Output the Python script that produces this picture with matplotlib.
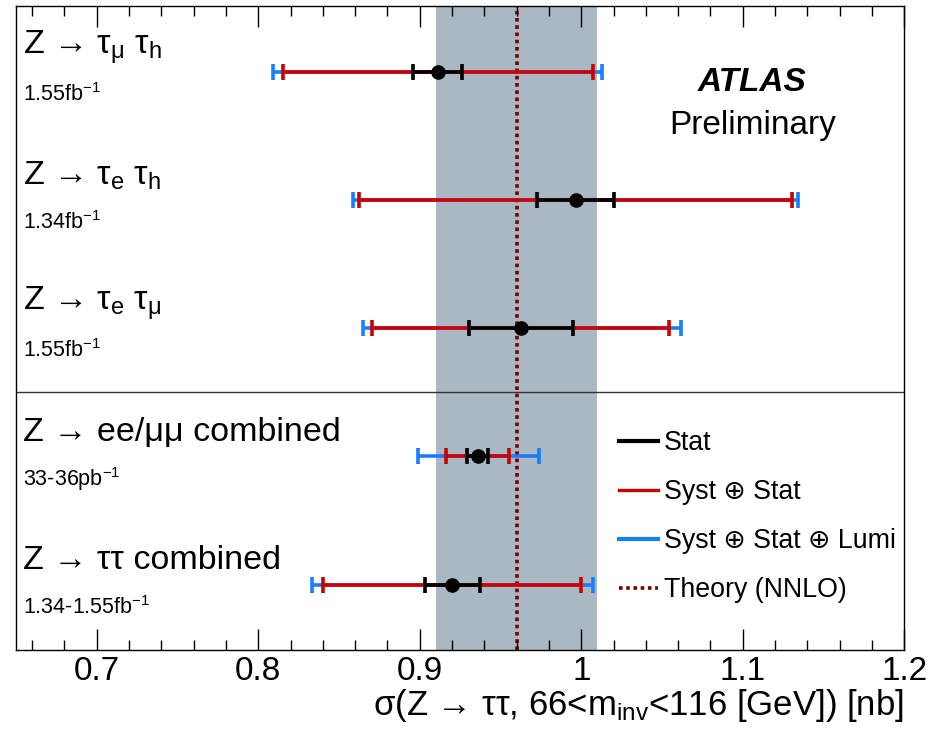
import matplotlib
matplotlib.use("Agg")
import matplotlib.pyplot as plt
from matplotlib.lines import Line2D
from matplotlib.ticker import MultipleLocator

plt.rcParams["font.family"] = ["Liberation Sans", "DejaVu Sans"]
plt.rcParams["mathtext.fontset"] = "custom"
plt.rcParams["mathtext.rm"] = "Liberation Sans"
plt.rcParams["mathtext.it"] = "Liberation Sans:italic"
plt.rcParams["mathtext.bf"] = "Liberation Sans:bold"

# measurements, top to bottom
channels = [
    r"Z → τ$_\mathregular{μ}$ τ$_\mathregular{h}$",
    r"Z → τ$_\mathregular{e}$ τ$_\mathregular{h}$",
    r"Z → τ$_\mathregular{e}$ τ$_\mathregular{μ}$",
    r"Z → ee/μμ combined",
    r"Z → ττ combined",
]
lumis = [
    r"1.55fb$^\mathregular{-1}$",
    r"1.34fb$^\mathregular{-1}$",
    r"1.55fb$^\mathregular{-1}$",
    r"33-36pb$^\mathregular{-1}$",
    r"1.34-1.55fb$^\mathregular{-1}$",
]
central = [0.911, 0.9965, 0.9626, 0.936, 0.920]
stat_lo = [0.015, 0.024, 0.032, 0.007, 0.017]
stat_hi = [0.015, 0.024, 0.032, 0.006, 0.017]
syst_lo = [0.096, 0.134, 0.092, 0.020, 0.080]
syst_hi = [0.096, 0.134, 0.092, 0.019, 0.080]
lumi_lo = [0.102, 0.138, 0.098, 0.037, 0.087]
lumi_hi = [0.102, 0.138, 0.099, 0.038, 0.087]
ypos = [5, 4, 3, 2, 1]

theory = 0.96
theory_err = 0.05

c_band = "#a9b8c3"
c_red = "#cc0000"
c_blue = "#1a7dff"
c_theory = "#7a0000"

fig = plt.figure(figsize=(9.33, 7.4), dpi=100)
ax = fig.add_axes([0.0172, 0.1216, 0.9520, 0.8703])

ax.axvspan(theory - theory_err, theory + theory_err, color=c_band, lw=0, zorder=0)
ax.axvline(theory, color=c_theory, ls=(0, (1, 1)), lw=2.6, zorder=1)
ax.axhline(2.5, color="#333333", lw=1.0, zorder=1)

ax.errorbar(central, ypos, xerr=[lumi_lo, lumi_hi], fmt="none", ecolor=c_blue,
            elinewidth=2.6, capsize=5.5, capthick=2.6, zorder=2)
ax.errorbar(central, ypos, xerr=[syst_lo, syst_hi], fmt="none", ecolor=c_red,
            elinewidth=2.6, capsize=5.5, capthick=2.6, zorder=3)
ax.errorbar(central, ypos, xerr=[stat_lo, stat_hi], fmt="o", color="black",
            ecolor="black", elinewidth=2.6, capsize=5.5, capthick=2.6,
            markersize=9.5, zorder=4)

for y, name, lumi in zip(ypos, channels, lumis):
    ax.text(0.654, y + 0.19, name, fontsize=24.5, va="center", ha="left")
    ax.text(0.654, y - 0.175, lumi, fontsize=15.5, va="center", ha="left")

ax.text(1.106, 4.92, "ATLAS", fontsize=24, fontweight="bold", style="italic",
        ha="center", va="center")
ax.text(1.106, 4.585, "Preliminary", fontsize=24, ha="center", va="center")

ax.set_xlim(0.65, 1.2)
ax.set_ylim(0.49, 5.515)
ax.set_yticks([])
ax.xaxis.set_minor_locator(MultipleLocator(0.02))
ax.set_xticks([0.7, 0.8, 0.9, 1.0, 1.1, 1.2])
ax.set_xticklabels(["0.7", "0.8", "0.9", "1", "1.1", "1.2"])
ax.tick_params(axis="x", which="both", direction="in", top=True, bottom=True,
               labelsize=24, pad=4)
ax.tick_params(axis="x", which="major", length=15, width=1)
ax.tick_params(axis="x", which="minor", length=7.5, width=1)
for s in ax.spines.values():
    s.set_linewidth(1.0)

ax.set_xlabel(r"σ(Z → ττ, 66<m$_\mathregular{inv}$<116 [GeV]) [nb]",
              fontsize=25, loc="right", labelpad=0)

handles = [
    Line2D([], [], color="black", lw=3),
    Line2D([], [], color=c_red, lw=2.4),
    Line2D([], [], color=c_blue, lw=3),
    Line2D([], [], color=c_theory, lw=2.6, ls=(0, (1, 1))),
]
labels = ["Stat", "Syst ⊕ Stat", "Syst ⊕ Stat ⊕ Lumi", "Theory (NNLO)"]
fig.legend(handles, labels, loc="upper left", bbox_to_anchor=(0.6524, 0.433),
           frameon=False, fontsize=19.3, handlelength=1.45, handletextpad=0.2,
           labelspacing=0.86, borderaxespad=0)

fig.savefig("out.png", dpi=100)
